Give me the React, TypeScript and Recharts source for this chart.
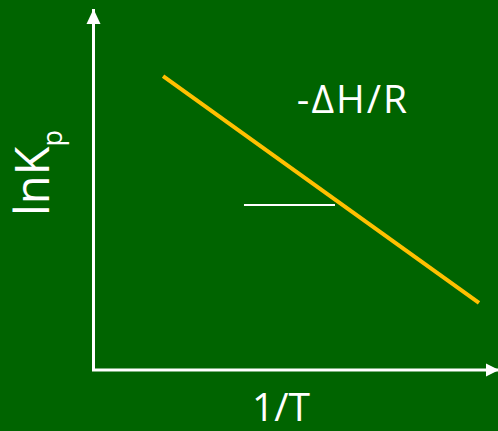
import React from 'react';
import { ComposedChart, Line, Scatter, XAxis, YAxis, Customized } from 'recharts';

// Schematic van 't Hoff plot: lnKp vs 1/T
const axisPath = [
  { x: 0, y: 10 },
  { x: 0, y: 0 },
  { x: 10, y: 0 },
];
const vantHoffLine = [
  { x: 1.72, y: 8.14 },
  { x: 9.53, y: 1.86 },
];
const slopeGuide = [
  { x: 3.72, y: 4.57 },
  { x: 5.97, y: 4.57 },
];
const arrowTips = [
  { x: 0, y: 10, dir: 'up' },
  { x: 10, y: 0, dir: 'right' },
];
const xLabel = '1/T';
const yLabelMain = 'lnK';
const yLabelSub = 'p';
const slopeLabel = '-ΔH/R';

const BG = '#006400';
const ORANGE = '#FFC000';
const FONT = '"Open Sans", sans-serif';

const ArrowHead = (props: any) => {
  const { cx, cy, payload } = props;
  if (payload.dir === 'up') {
    const pts = `${cx},${cy} ${cx - 7},${cy + 15} ${cx + 7},${cy + 15}`;
    return <polygon points={pts} fill="#fff" />;
  }
  const pts = `${cx + 1},${cy} ${cx - 12},${cy - 6.5} ${cx - 12},${cy + 6.5}`;
  return <polygon points={pts} fill="#fff" />;
};

const Texts = () => (
  <g>
    <text x={353} y={113} fill="#fff" fontFamily={FONT} fontSize={39} textAnchor="middle" letterSpacing={2}>
      {slopeLabel}
    </text>
    <text x={281} y={421} fill="#fff" fontFamily={FONT} fontSize={39} textAnchor="middle">
      {xLabel}
    </text>
    <text transform="translate(49,216) rotate(-90)" fill="#fff" fontFamily={FONT} fontSize={47}>
      {yLabelMain}
      <tspan fontSize={27} dy={12.5}>{yLabelSub}</tspan>
    </text>
  </g>
);

export default function App() {
  return (
    <div style={{ position: 'absolute', left: 0, top: 0, width: 498, height: 431, background: BG }}>
      <ComposedChart width={498} height={431} margin={{ top: 9, right: 0, bottom: 61, left: 93.5 }}>
        <XAxis dataKey="x" type="number" domain={[0, 10]} hide />
        <YAxis dataKey="y" type="number" domain={[0, 10]} hide />
        <Line data={axisPath} dataKey="y" stroke="#fff" strokeWidth={3} dot={false} strokeLinejoin="miter" strokeLinecap="butt" isAnimationActive={false} />
        <Line data={vantHoffLine} dataKey="y" stroke={ORANGE} strokeWidth={4} dot={false} isAnimationActive={false} />
        <Line data={slopeGuide} dataKey="y" stroke="#fff" strokeWidth={2} dot={false} isAnimationActive={false} />
        <Scatter data={arrowTips} dataKey="y" shape={ArrowHead} isAnimationActive={false} />
        <Customized component={Texts} />
      </ComposedChart>
    </div>
  );
}
